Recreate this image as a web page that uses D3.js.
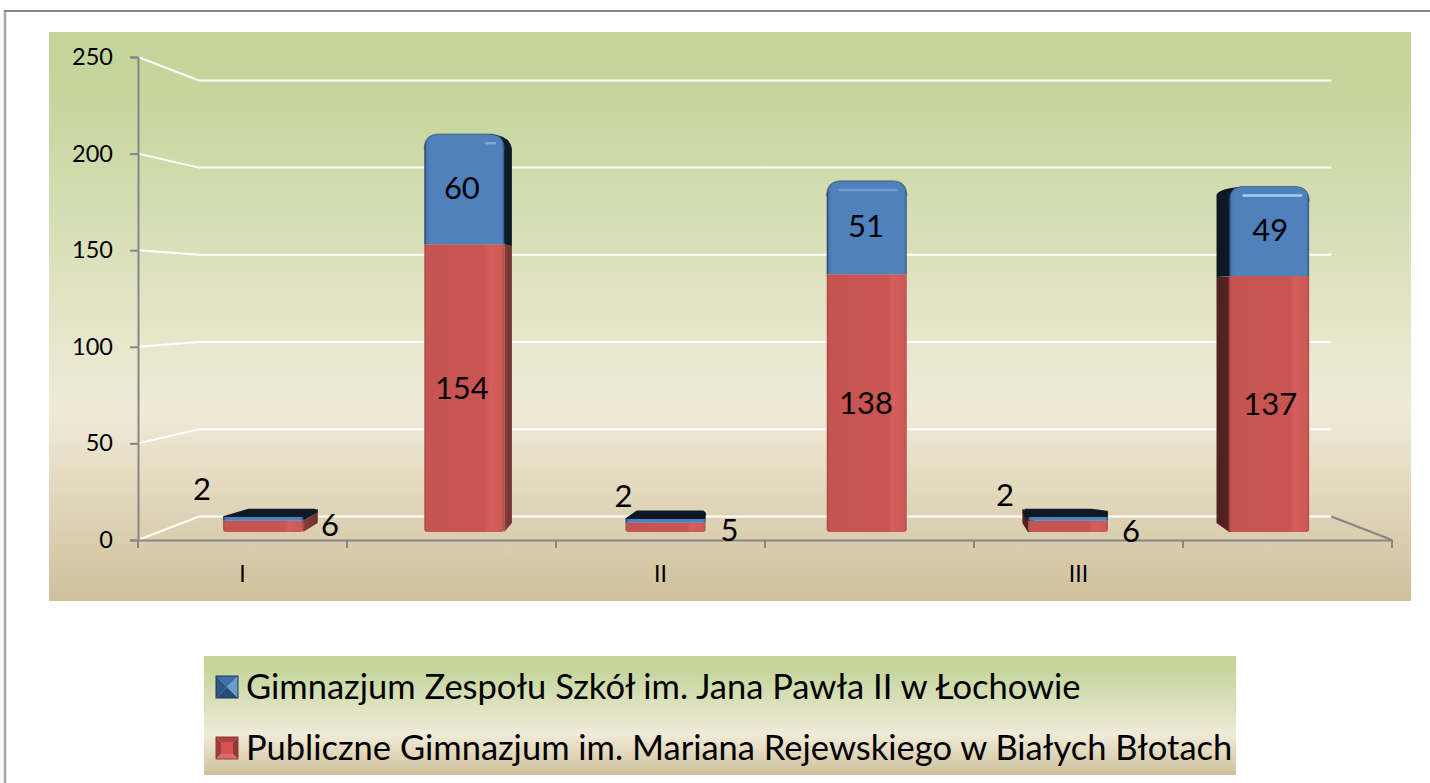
<!DOCTYPE html>
<html>
<head>
<meta charset="utf-8">
<script src="https://d3js.org/d3.v7.min.js"></script>
<style>
html, body { margin: 0; padding: 0; background: #fff; overflow: hidden; }
text { font-family: Lato, "Open Sans", sans-serif; fill: #000; }
</style>
</head>
<body>
<script>
//chart values
var categories = ["I", "", "II", "", "III", ""];
var series1 = [6, 154, 5, 138, 6, 137];
var series2 = [2, 60, 2, 51, 2, 49];
var seriesNames = ["Publiczne Gimnazjum im. Mariana Rejewskiego w Białych Błotach", "Gimnazjum Zespołu Szkół im. Jana Pawła II w Łochowie"];
var yTicks = [0, 50, 100, 150, 200, 250];

var svg = d3.select("body").append("svg")
    .attr("width", 1430)
    .attr("height", 783);
var defs = svg.append("defs");

//background gradient, used for plot area and legend
var bg = defs.append("linearGradient").attr("id", "bg").attr("x1", 0).attr("x2", 0).attr("y1", 0).attr("y2", 1);
bg.append("stop").attr("offset", 0).attr("stop-color", "#c3d59b");
bg.append("stop").attr("offset", 0.12).attr("stop-color", "#c6d69e");
bg.append("stop").attr("offset", 0.66).attr("stop-color", "#f0ebd8");
bg.append("stop").attr("offset", 1).attr("stop-color", "#cfc09a");

//front faces of the bars, one gradient per colour
function faceGradient(id, stops){
    var g = defs.append("linearGradient").attr("id", id);
    stops.forEach(function(s){
        g.append("stop").attr("offset", s[0]).attr("stop-color", s[1]);
    });
}
faceGradient("blueFace", [[0, "#1f3a58"], [0.03, "#4a7ab3"], [0.08, "#4f81bd"], [0.97, "#4f81bd"], [1, "#2f5377"]]);
faceGradient("redFace", [[0, "#a94744"], [0.03, "#c55451"], [0.76, "#c95553"], [0.82, "#d45f5c"], [0.97, "#cd5a58"], [1, "#b04a47"]]);
faceGradient("blueSideL", [[0, "#0b1722"], [0.55, "#0c1a27"], [1, "#2d5480"]]);
faceGradient("redSideL", [[0, "#4f1f20"], [0.55, "#552122"], [1, "#b54d4a"]]);
faceGradient("blueSideR", [[0, "#0d1b28"], [1, "#0d1a26"]]);
faceGradient("redSideR", [[0, "#8a3d3b"], [1, "#6e3230"]]);

//frame, only top and left are inside the picture
svg.append("line").attr("x1", 5).attr("x2", 5).attr("y1", 11).attr("y2", 783)
    .attr("stroke", "#a8a8a8").attr("stroke-width", 2.5);
svg.append("line").attr("x1", 4).attr("x2", 1430).attr("y1", 11).attr("y2", 11)
    .attr("stroke", "#868686").attr("stroke-width", 2.2);

svg.append("rect").attr("x", 49).attr("y", 32).attr("width", 1362).attr("height", 569).attr("fill", "url(#bg)");
svg.append("rect").attr("x", 204).attr("y", 656).attr("width", 1032).attr("height", 119).attr("fill", "url(#bg)");

//scales for the front plane of the chart box
var x = d3.scaleBand().domain(d3.range(categories.length)).range([138, 1392]);
var y = d3.scaleLinear().domain([0, 250]).range([540, 57]);

//perspective, depth 0 is the axis plane and depth 1 the back wall
var cx = 766, cy = 298;
function persp(depth){ return 1 - 0.097 * depth; }
function px(v, depth){ return cx + (v - cx) * persp(depth); }
function py(v, depth){ return cy + (y(v) - cy) * persp(depth); }

//gridlines on the side wall and the back wall
yTicks.forEach(function(t){
    svg.append("path")
        .attr("d", d3.line()([[px(138, 0), py(t, 0)], [px(138, 1), py(t, 1)], [px(1392, 1), py(t, 1)]]))
        .attr("fill", "none")
        .attr("stroke", "#fff")
        .attr("stroke-width", 2);
});
//floor edge on the right
svg.append("line")
    .attr("x1", px(1392, 1)).attr("y1", py(0, 1))
    .attr("x2", px(1392, 0)).attr("y2", py(0, 0))
    .attr("stroke", "#868686")
    .attr("stroke-width", 2);

//axes
var yAxis = svg.append("g").attr("transform", "translate(138,0)")
    .call(d3.axisLeft(y).tickValues(yTicks).tickSize(8).tickPadding(17));
yAxis.selectAll("text").style("font-size", "23.5px").attr("dy", "0.32em");

var xAxis = svg.append("g").attr("transform", "translate(0,540)")
    .call(d3.axisBottom(x).tickSize(0).tickPadding(26).tickFormat(function(i){ return categories[i]; }));
xAxis.selectAll("text").style("font-size", "23px");
xAxis.selectAll(".tick").filter(function(i){ return categories[i] === ""; }).remove();
d3.range(categories.length + 1).forEach(function(i){
    xAxis.append("line")
        .attr("x1", 138 + i * x.step()).attr("x2", 138 + i * x.step())
        .attr("y1", 0).attr("y2", 8)
        .attr("stroke", "#868686")
        .attr("stroke-width", 2);
});
svg.selectAll(".domain").attr("stroke", "#868686").attr("stroke-width", 2);
yAxis.selectAll(".tick line").attr("stroke", "#868686").attr("stroke-width", 2);

//bars, the boxes sit a bit off the middle of the chart box
var frontDepth = 0.34, backDepth = 0.72;
var barCx = 795, frontScale = 0.9627, backScale = 0.929;
var frontHalf = 40, backHalf = 36;

function drawSegment(i, from, to, front, sideL, sideR, isTop){
    var mid = x(i) + x.bandwidth() / 2;
    var fc = barCx + (mid - barCx) * frontScale, bc = barCx + (mid - barCx) * backScale;
    var fx0 = fc - frontHalf, fx1 = fc + frontHalf;
    var bx0 = bc - backHalf, bx1 = bc + backHalf;
    var fy0 = py(from, frontDepth), fy1 = py(to, frontDepth);
    var by0 = py(from, backDepth), by1 = py(to, backDepth);
    var tall = (fy0 - fy1) > 30;
    var r = isTop && tall ? 15 : 0;
    var foot = from === 0 ? 3 : 0;
    //the bevel takes a little off the top of the tall boxes
    var top = isTop && tall ? fy1 + 2 : fy1;

    //side faces, only where the back sticks out past the front
    if (bx1 > fx1 + 1){
        var dR = "M" + fx1 + "," + fy0 + "L" + bx1 + "," + by0;
        dR += isTop && tall
            ? "V" + (by1 + 10) + "Q" + (bx1 - 2) + "," + (top + 1) + " " + (fx1 - r) + "," + top
            : "V" + by1 + "L" + fx1 + "," + fy1;
        svg.append("path").attr("d", dR + "Z").attr("fill", sideR);
    }
    if (bx0 < fx0 - 1){
        var dL = "M" + (fx0 + 6) + "," + fy0 + "H" + fx0 + "L" + bx0 + "," + by0;
        dL += isTop && tall
            ? "V" + (by1 + 6) + "Q" + (bx0 + 2) + "," + (top + 2) + " " + (fx0 + r) + "," + top
            : "V" + by1 + "L" + (fx0 + 6) + "," + fy1;
        svg.append("path").attr("d", dL + "Z").attr("fill", sideL);
    }
    //top face of the low boxes, seen from above
    if (isTop && by1 < fy1){
        svg.append("path")
            .attr("d", d3.line()([[fx0 + 1, fy1], [bx0 + 3, by1 + 1], [bx1 - 3, by1 + 1], [Math.max(bx1, fx1) - 1, by1 + 3], [fx1 - 1, fy1]]) + "Z")
            .attr("fill", "#0d1a26")
            .attr("stroke", "#0d1a26")
            .attr("stroke-width", 2)
            .attr("stroke-linejoin", "round");
    }
    //front face with rounded top corners and a small foot radius
    var path = "M" + (fx0 + foot) + "," + fy0 +
        "Q" + fx0 + "," + fy0 + " " + fx0 + "," + (fy0 - foot) +
        "V" + (top + r) +
        "Q" + fx0 + "," + top + " " + (fx0 + r) + "," + top +
        "H" + (fx1 - r) +
        "Q" + fx1 + "," + top + " " + fx1 + "," + (top + r) +
        "V" + (fy0 - foot) +
        "Q" + fx1 + "," + fy0 + " " + (fx1 - foot) + "," + fy0 + "Z";
    svg.append("path").attr("d", path).attr("fill", front);
    if (isTop && tall){
        //soft rim along the rounded top
        svg.append("path")
            .attr("d", "M" + fx0 + "," + (top + r) +
                "Q" + fx0 + "," + top + " " + (fx0 + r) + "," + top +
                "H" + (fx1 - r) +
                "Q" + fx1 + "," + top + " " + fx1 + "," + (top + r))
            .attr("fill", "none")
            .attr("stroke", "#2b4a6c")
            .attr("stroke-width", 1.2)
            .attr("opacity", 0.6);
    }
    return {x0: fx0, x1: fx1, y0: fy0, y1: fy1, top: top};
}

//hand placed offsets of the labels on the very low bars
var lowLabelOffset = {
    0: {blue: [-61, -30], red: [67, -1]},
    2: {blue: [-42, -25], red: [64, 3]},
    4: {blue: [-63, -24], red: [63, 5]}
};
//light streak near the top of the tall bars: from, to (share of bar width), opacity
var topHighlight = {
    1: [0.78, 0.88, 0.55],
    3: [0.16, 0.88, 0.3],
    5: [0.18, 0.9, 0.95]
};

categories.forEach(function(c, i){
    var total = series1[i] + series2[i];
    var red = drawSegment(i, 0, series1[i], "url(#redFace)", "url(#redSideL)", "url(#redSideR)", false);
    var blue = drawSegment(i, series1[i], total, "url(#blueFace)", "url(#blueSideL)", "url(#blueSideR)", true);

    if (topHighlight[i]){
        var w = blue.x1 - blue.x0, h = topHighlight[i];
        svg.append("line")
            .attr("x1", blue.x0 + w * h[0]).attr("x2", blue.x0 + w * h[1])
            .attr("y1", blue.top + 9).attr("y2", blue.top + 9)
            .attr("stroke", "#a9d4f7")
            .attr("stroke-width", 2.5)
            .attr("stroke-linecap", "round")
            .attr("opacity", h[2]);
    }

    var redX = (red.x0 + red.x1) / 2, redY = (red.y0 + red.y1) / 2;
    var blueX = redX, blueY = (blue.y0 + blue.y1) / 2;
    if (lowLabelOffset[i]){
        blueX += lowLabelOffset[i].blue[0];
        blueY += lowLabelOffset[i].blue[1];
        redX += lowLabelOffset[i].red[0];
        redY += lowLabelOffset[i].red[1];
    } else {
        redX = blueX = px(x(i) + x.bandwidth() / 2, frontDepth);
    }
    svg.append("text").attr("x", redX).attr("y", redY).attr("dy", "0.35em")
        .attr("text-anchor", "middle").style("font-size", "31px").text(series1[i]);
    svg.append("text").attr("x", blueX).attr("y", blueY).attr("dy", "0.35em")
        .attr("text-anchor", "middle").style("font-size", "31px").text(series2[i]);
});

//legend, top left bottom right faces and the middle of each marker
var legendItems = [
    {name: seriesNames[1], b: 10, edge: "#1f3550", c: ["#3f6fa8", "#2b5588", "#274c78", "#6a9ad0", "#4f81bd"]},
    {name: seriesNames[0], b: 5, edge: "#8e3a38", c: ["#a8423f", "#9c3f3c", "#e06a66", "#8e3a38", "#d9524f"]}
];
legendItems.forEach(function(d, i){
    var top = 676 + i * 61, s = 22, b = d.b;
    var g = svg.append("g").attr("transform", "translate(216," + top + ")");
    g.append("polygon").attr("points", [[0, 0], [s, 0], [s - b, b], [b, b]].join(" ")).attr("fill", d.c[0]);
    g.append("polygon").attr("points", [[0, 0], [b, b], [b, s - b], [0, s]].join(" ")).attr("fill", d.c[1]);
    g.append("polygon").attr("points", [[0, s], [b, s - b], [s - b, s - b], [s, s]].join(" ")).attr("fill", d.c[2]);
    g.append("polygon").attr("points", [[s, 0], [s, s], [s - b, s - b], [s - b, b]].join(" ")).attr("fill", d.c[3]);
    g.append("rect").attr("x", b).attr("y", b).attr("width", s - 2 * b).attr("height", s - 2 * b).attr("fill", d.c[4]);
    g.append("rect").attr("width", s).attr("height", s).attr("fill", "none").attr("stroke", d.edge);
    svg.append("text").attr("x", 246).attr("y", top + 11).attr("dy", "0.35em")
        .style("font-size", "34.5px").text(d.name);
});
</script>
</body>
</html>
